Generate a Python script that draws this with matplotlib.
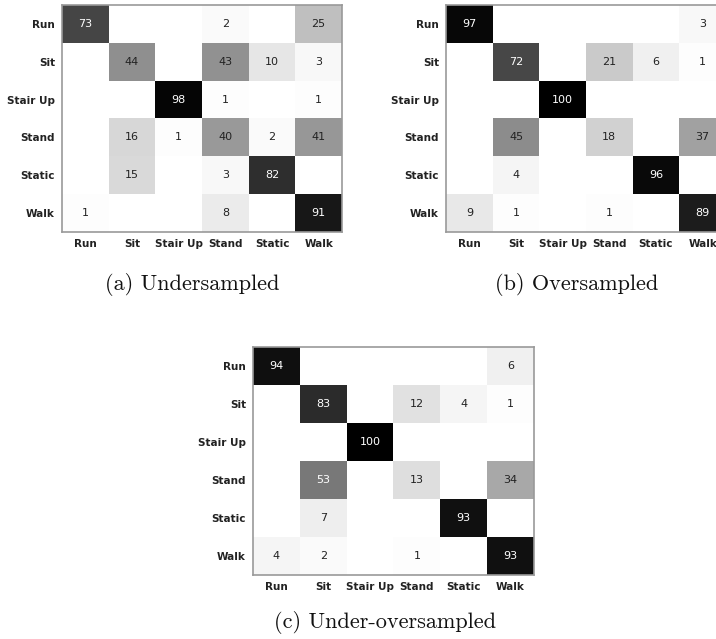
import numpy as np
import matplotlib
matplotlib.use("Agg")
import matplotlib.pyplot as plt

# class labels shared by all three confusion matrices
labels = ["Run", "Sit", "Stair Up", "Stand", "Static", "Walk"]

# percentages per row (true class) / column (predicted class)
undersampled = [
    [73, 0, 0, 2, 0, 25],
    [0, 44, 0, 43, 10, 3],
    [0, 0, 98, 1, 0, 1],
    [0, 16, 1, 40, 2, 41],
    [0, 15, 0, 3, 82, 0],
    [1, 0, 0, 8, 0, 91],
]
oversampled = [
    [97, 0, 0, 0, 0, 3],
    [0, 72, 0, 21, 6, 1],
    [0, 0, 100, 0, 0, 0],
    [0, 45, 0, 18, 0, 37],
    [0, 4, 0, 0, 96, 0],
    [9, 1, 0, 1, 0, 89],
]
under_oversampled = [
    [94, 0, 0, 0, 0, 6],
    [0, 83, 0, 12, 4, 1],
    [0, 0, 100, 0, 0, 0],
    [0, 53, 0, 13, 0, 34],
    [0, 7, 0, 0, 93, 0],
    [4, 2, 0, 1, 0, 93],
]
captions = ["(a) Undersampled", "(b) Oversampled", "(c) Under-oversampled"]

W, H = 716, 639
fig = plt.figure(figsize=(W / 100, H / 100), dpi=100)


def draw_cm(rect, mat):
    ax = fig.add_axes(rect)
    mat = np.array(mat)
    ax.imshow(mat, cmap="gray_r", vmin=0, vmax=100, aspect="auto",
              interpolation="nearest")
    for i in range(mat.shape[0]):
        for j in range(mat.shape[1]):
            v = mat[i, j]
            if v == 0:
                continue
            ax.text(j, i, str(v), ha="center", va="center", fontsize=8,
                    color="white" if v > 50 else "#222222")
    ax.set_xticks(range(len(labels)))
    ax.set_yticks(range(len(labels)))
    ax.set_xticklabels(labels, fontsize=7.5, fontweight="bold", color="#222222")
    ax.set_yticklabels(labels, fontsize=7.5, fontweight="bold", color="#222222")
    ax.tick_params(length=0, pad=5)
    for s in ax.spines.values():
        s.set_color("#999999")
        s.set_linewidth(1.2)
    return ax


# axes boxes measured in pixels: left, top, right, bottom
boxes = [(62, 5, 342, 232), (446, 5, 726, 232), (253, 347, 534, 575)]
mats = [undersampled, oversampled, under_oversampled]
for (l, t, r, b), m in zip(boxes, mats):
    draw_cm([l / W, 1 - b / H, (r - l) / W, (b - t) / H], m)

# subfigure captions
cap_pos = [(192, 284), (577, 284), (385, 622)]
for (x, y), c in zip(cap_pos, captions):
    fig.text(x / W, 1 - y / H, c, ha="center", va="center",
             fontsize=16, family="cmr10", color="#111111")

fig.savefig("out.png", dpi=100)
